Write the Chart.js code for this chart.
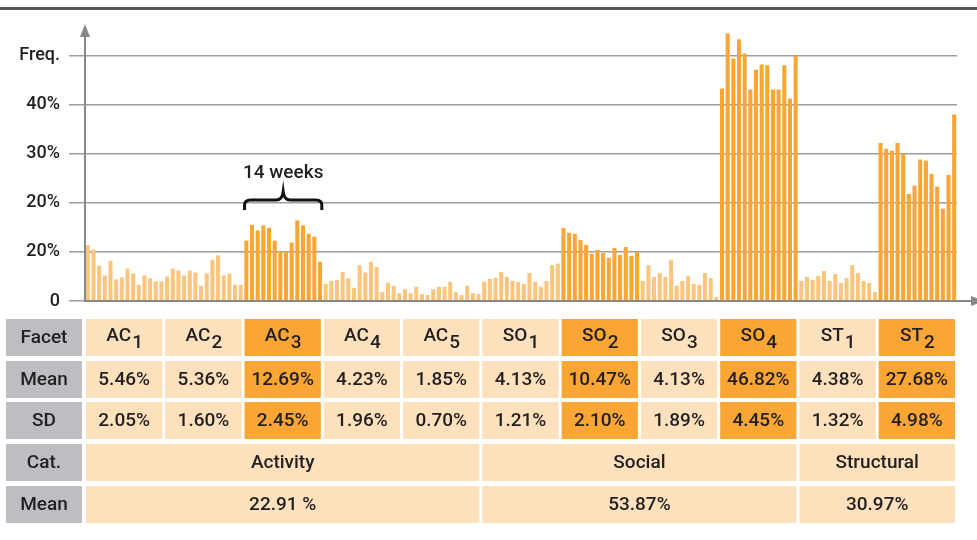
<!DOCTYPE html>
<html>
<head>
<meta charset="utf-8">
<script src="https://cdn.jsdelivr.net/npm/chart.js@4.4.0/dist/chart.umd.min.js"></script>
<style>
  html, body { margin: 0; padding: 0; background: #fff; }
</style>
</head>
<body>
<canvas id="chartCanvas" width="977" height="540"></canvas>
<script>
// facet table
const facetNames = ["AC", "AC", "AC", "AC", "AC", "SO", "SO", "SO", "SO", "ST", "ST"];
const facetSubs = ["1", "2", "3", "4", "5", "1", "2", "3", "4", "1", "2"];
const facetMeans = ["5.46%", "5.36%", "12.69%", "4.23%", "1.85%", "4.13%", "10.47%", "4.13%", "46.82%", "4.38%", "27.68%"];
const facetSDs = ["2.05%", "1.60%", "2.45%", "1.96%", "0.70%", "1.21%", "2.10%", "1.89%", "4.45%", "1.32%", "4.98%"];
const highlighted = [false, false, true, false, false, false, true, false, true, false, true];

const categories = ["Activity", "Social", "Structural"];
const categorySpans = [5, 4, 2];
const categoryMeans = ["22.91 %", "53.87%", "30.97%"];

// y axis
const yTickValues = [0, 10, 20, 30, 40, 50];
const yTickLabels = ["0", "20%", "20%", "30%", "40%", "Freq."];

// weekly frequencies (%) per facet, 14 weeks each
const ac1 = [11.4, 10.5, 7.2, 5.2, 8.2, 4.4, 4.8, 6.6, 5.6, 3.3, 5.2, 4.6, 4.0, 4.0];
const ac2 = [5.0, 6.6, 6.2, 5.2, 6.2, 5.8, 3.1, 5.6, 8.4, 9.3, 5.2, 5.6, 3.3, 3.3];
const ac3 = [12.3, 15.5, 14.4, 15.4, 14.9, 12.3, 10.1, 10.1, 11.9, 16.4, 15.4, 13.7, 13.1, 8.0];
const ac4 = [3.5, 4.1, 4.3, 5.9, 4.6, 2.7, 7.3, 5.8, 8.0, 6.9, 1.8, 3.7, 3.1, 1.6];
const ac5 = [2.4, 1.6, 2.9, 1.4, 1.2, 2.4, 2.9, 2.9, 3.9, 1.8, 1.2, 3.1, 1.6, 1.4];
const so1 = [3.9, 4.5, 4.7, 5.9, 4.9, 4.1, 3.9, 3.5, 5.7, 3.9, 2.9, 4.1, 7.3, 7.6];
const so2 = [14.9, 13.9, 13.7, 12.4, 11.4, 9.6, 10.4, 9.8, 8.8, 10.8, 9.4, 11.0, 9.2, 10.0];
const so3 = [4.1, 7.3, 4.9, 5.7, 4.9, 8.4, 3.1, 4.1, 5.1, 3.5, 3.3, 5.7, 4.7, 0.8];
const so4 = [43.3, 54.5, 49.4, 53.3, 50.4, 43.1, 47.1, 48.2, 48.0, 43.1, 43.1, 48.0, 41.2, 50.0];
const st1 = [4.1, 4.9, 4.3, 5.1, 6.1, 4.1, 5.5, 3.7, 4.7, 7.3, 5.7, 4.1, 3.7, 1.8];
const st2 = [32.2, 31.0, 30.6, 32.2, 30.0, 21.8, 23.5, 28.8, 28.6, 25.9, 23.3, 18.8, 25.7, 38.0];
const weekly = [ac1, ac2, ac3, ac4, ac5, so1, so2, so3, so4, st1, st2];
const WEEKS = 14;

const LIGHT_BAR = "#fcc57e";
const DARK_BAR = "#f9a634";
const LIGHT_CELL = "#fde0bc";
const DARK_CELL = "#f9a634";
const GREY_CELL = "#bdbec2";
const TEXT = "#231f20";
const AXIS = "#888888";
const FONT = "Roboto, 'Liberation Sans', sans-serif";

const values = [];
const labels = [];
const barColors = [];
weekly.forEach((arr, f) => {
  arr.forEach((v, w) => {
    values.push(v);
    labels.push(facetNames[f] + facetSubs[f] + " w" + (w + 1));
    barColors.push(highlighted[f] ? DARK_BAR : LIGHT_BAR);
  });
});

function drawCell(ctx, x, y, w, h, fill) {
  ctx.fillStyle = fill;
  ctx.fillRect(x, y, w, h);
}

function centerText(ctx, text, cx, cy, sub) {
  ctx.fillStyle = TEXT;
  ctx.textBaseline = "middle";
  if (!sub) {
    ctx.textAlign = "center";
    ctx.fillText(text, cx, cy);
    return;
  }
  const w1 = ctx.measureText(text).width;
  const w2 = ctx.measureText(sub).width;
  const start = cx - (w1 + w2) / 2;
  ctx.textAlign = "left";
  ctx.fillText(text, start, cy - 2);
  ctx.fillText(sub, start + w1 + 1, cy + 5);
}

const extrasPlugin = {
  id: "extras",
  afterDraw(chart) {
    const ctx = chart.ctx;
    const x = chart.scales.x;
    const y = chart.scales.y;
    const step = x.getPixelForValue(1) - x.getPixelForValue(0);
    const y0 = y.getPixelForValue(0);
    const left = chart.chartArea.left;
    ctx.save();

    // top rule
    ctx.fillStyle = "#555658";
    ctx.fillRect(0, 7, 977, 3);

    // axes with arrows
    ctx.strokeStyle = AXIS;
    ctx.fillStyle = AXIS;
    ctx.lineWidth = 2;
    ctx.beginPath();
    ctx.moveTo(left, y0 + 1);
    ctx.lineTo(left, 34);
    ctx.moveTo(left, y0);
    ctx.lineTo(972, y0);
    ctx.stroke();
    ctx.beginPath();
    ctx.moveTo(left, 24);
    ctx.lineTo(left - 5, 37);
    ctx.lineTo(left + 5, 37);
    ctx.closePath();
    ctx.fill();
    ctx.beginPath();
    ctx.moveTo(984, y0);
    ctx.lineTo(971, y0 - 5);
    ctx.lineTo(971, y0 + 5);
    ctx.closePath();
    ctx.fill();

    // brace over AC3
    const bl = x.getPixelForValue(2 * WEEKS) - step / 2 + 1;
    const br = x.getPixelForValue(3 * WEEKS - 1) + step / 2 - 1;
    const bm = (bl + br) / 2;
    ctx.strokeStyle = "#111";
    ctx.lineWidth = 3;
    ctx.beginPath();
    ctx.moveTo(bl, 210);
    ctx.lineTo(bl, 205);
    ctx.quadraticCurveTo(bl, 200, bl + 6, 200);
    ctx.lineTo(bm - 7, 200);
    ctx.quadraticCurveTo(bm - 1, 200, bm, 192);
    ctx.quadraticCurveTo(bm + 1, 200, bm + 7, 200);
    ctx.lineTo(br - 6, 200);
    ctx.quadraticCurveTo(br, 200, br, 205);
    ctx.lineTo(br, 210);
    ctx.stroke();
    ctx.font = "500 19px " + FONT;
    centerText(ctx, "14 weeks", bm, 173);

    // table
    const rowTops = [319, 361, 402, 444, 486];
    const rowH = 37;
    const labelX = 6, labelW = 76;
    const rowLabels = ["Facet", "Mean", "SD", "Cat.", "Mean"];
    ctx.font = "500 19px " + FONT;
    rowLabels.forEach((t, r) => {
      drawCell(ctx, labelX, rowTops[r], labelW, rowH, GREY_CELL);
      centerText(ctx, t, labelX + labelW / 2, rowTops[r] + rowH / 2 + 1);
    });

    const colLeft = (f) => x.getPixelForValue(f * WEEKS) - step / 2 + 1;
    const colRight = (f) => x.getPixelForValue(f * WEEKS + WEEKS - 1) + step / 2 - 2;
    facetNames.forEach((name, f) => {
      const l = colLeft(f), r = colRight(f), cx = (l + r) / 2;
      const fill = highlighted[f] ? DARK_CELL : LIGHT_CELL;
      drawCell(ctx, l, rowTops[0], r - l, rowH, fill);
      drawCell(ctx, l, rowTops[1], r - l, rowH, fill);
      drawCell(ctx, l, rowTops[2], r - l, rowH, fill);
      centerText(ctx, name, cx, rowTops[0] + rowH / 2 + 1, facetSubs[f]);
      centerText(ctx, facetMeans[f], cx, rowTops[1] + rowH / 2 + 1);
      centerText(ctx, facetSDs[f], cx, rowTops[2] + rowH / 2 + 1);
    });

    let first = 0;
    categories.forEach((cat, c) => {
      const last = first + categorySpans[c] - 1;
      const l = colLeft(first), r = colRight(last), cx = (l + r) / 2;
      drawCell(ctx, l, rowTops[3], r - l, rowH, LIGHT_CELL);
      drawCell(ctx, l, rowTops[4], r - l, rowH, LIGHT_CELL);
      centerText(ctx, cat, cx, rowTops[3] + rowH / 2 + 1);
      centerText(ctx, categoryMeans[c], cx, rowTops[4] + rowH / 2 + 1);
      first = last + 1;
    });

    ctx.restore();
  },
};

const ctx = document.getElementById("chartCanvas").getContext("2d");
new Chart(ctx, {
  type: "bar",
  data: {
    labels: labels,
    datasets: [
      {
        data: values,
        backgroundColor: barColors,
        borderWidth: 0,
        categoryPercentage: 1,
        barPercentage: 0.72,
      },
    ],
  },
  options: {
    responsive: false,
    animation: false,
    devicePixelRatio: 1,
    layout: { padding: { top: 31, right: 20, bottom: 239, left: 0 } },
    plugins: { legend: { display: false }, tooltip: { enabled: false } },
    scales: {
      x: { type: "category", display: false },
      y: {
        min: 0,
        max: 55,
        afterBuildTicks: (scale) => {
          scale.ticks = yTickValues.map((v) => ({ value: v }));
        },
        afterFit: (scale) => {
          scale.width = 85;
        },
        border: { display: false },
        grid: { color: "#9d9d9d", lineWidth: 1.5, tickLength: 16, drawTicks: true },
        ticks: {
          padding: 9,
          color: TEXT,
          font: { family: FONT, size: 18, weight: "500" },
          callback: (v) => yTickLabels[yTickValues.indexOf(v)],
        },
      },
    },
  },
  plugins: [extrasPlugin],
});
</script>
</body>
</html>
